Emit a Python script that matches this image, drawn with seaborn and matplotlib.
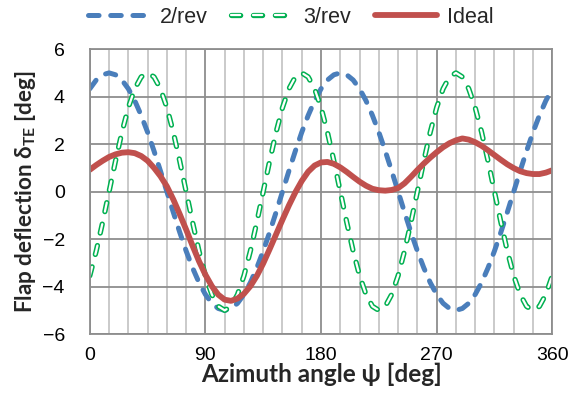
import matplotlib
matplotlib.use("Agg")
import matplotlib.pyplot as plt
import matplotlib.patheffects as pe
from matplotlib.lines import Line2D
import pandas as pd
import seaborn as sns

# Azimuth positions (deg) and flap deflection schedules (deg)
psi = list(range(0, 361, 5))

rev2 = [4.33, 4.70, 4.92, 5.00, 4.92, 4.70, 4.33, 3.83, 3.21, 2.50, 1.71, 0.87,
        0.00, -0.87, -1.71, -2.50, -3.21, -3.83, -4.33, -4.70, -4.92, -5.00, -4.92, -4.70,
        -4.33, -3.83, -3.21, -2.50, -1.71, -0.87, 0.00, 0.87, 1.71, 2.50, 3.21, 3.83,
        4.33, 4.70, 4.92, 5.00, 4.92, 4.70, 4.33, 3.83, 3.21, 2.50, 1.71, 0.87,
        0.00, -0.87, -1.71, -2.50, -3.21, -3.83, -4.33, -4.70, -4.92, -5.00, -4.92, -4.70,
        -4.33, -3.83, -3.21, -2.50, -1.71, -0.87, 0.00, 0.87, 1.71, 2.50, 3.21, 3.83,
        4.33]

rev3 = [-3.54, -2.50, -1.29, 0.00, 1.29, 2.50, 3.54, 4.33, 4.83, 5.00, 4.83, 4.33,
        3.54, 2.50, 1.29, 0.00, -1.29, -2.50, -3.54, -4.33, -4.83, -5.00, -4.83, -4.33,
        -3.54, -2.50, -1.29, 0.00, 1.29, 2.50, 3.54, 4.33, 4.83, 5.00, 4.83, 4.33,
        3.54, 2.50, 1.29, 0.00, -1.29, -2.50, -3.54, -4.33, -4.83, -5.00, -4.83, -4.33,
        -3.54, -2.50, -1.29, 0.00, 1.29, 2.50, 3.54, 4.33, 4.83, 5.00, 4.83, 4.33,
        3.54, 2.50, 1.29, 0.00, -1.29, -2.50, -3.54, -4.33, -4.83, -5.00, -4.83, -4.33,
        -3.54]

ideal = [0.92, 1.12, 1.30, 1.46, 1.57, 1.64, 1.66, 1.62, 1.50, 1.30, 1.00, 0.65,
         0.22, -0.33, -0.95, -1.60, -2.28, -2.93, -3.50, -3.98, -4.34, -4.55, -4.60, -4.50,
         -4.30, -3.98, -3.55, -3.02, -2.42, -1.80, -1.18, -0.58, -0.03, 0.45, 0.84, 1.10,
         1.23, 1.25, 1.17, 1.02, 0.83, 0.62, 0.42, 0.25, 0.12, 0.06, 0.04, 0.07,
         0.15, 0.35, 0.62, 0.91, 1.18, 1.43, 1.66, 1.87, 2.04, 2.16, 2.24, 2.19,
         2.08, 1.93, 1.74, 1.54, 1.34, 1.15, 0.99, 0.86, 0.78, 0.74, 0.74, 0.80,
         0.90]

series_names = ["2/rev", "3/rev", "Ideal"]
x_ticks = [0, 90, 180, 270, 360]
x_minor = list(range(0, 361, 15))
y_ticks = [-6, -4, -2, 0, 2, 4, 6]

sns.set_theme(style="white")
plt.rcParams["font.family"] = ["Liberation Sans", "DejaVu Sans"]
plt.rcParams["lines.scale_dashes"] = False
plt.rcParams["axes.unicode_minus"] = True

BLUE = "#4A7EBB"
GREEN = "#00B050"
RED = "#C0504D"

df = pd.DataFrame({"psi": psi, series_names[0]: rev2,
                   series_names[1]: rev3, series_names[2]: ideal})

fig = plt.figure(figsize=(5.72, 4.13), dpi=100)
ax = fig.add_axes([0.157, 0.191, 0.8085, 0.690])

blue_style = dict(color=BLUE, lw=3.6, ls=(0, (7.6, 8.4)),
                  dash_capstyle="round", solid_capstyle="round")
green_fx = [pe.Stroke(linewidth=3.8, foreground=GREEN, capstyle="round"), pe.Normal()]
green_style = dict(color="white", lw=1.6, ls=(0, (6.6, 9.2)),
                   dash_capstyle="round", path_effects=green_fx)
red_style = dict(color=RED, lw=4.2, solid_capstyle="round")

sns.lineplot(data=df, x="psi", y=series_names[0], ax=ax, legend=False, **blue_style)
sns.lineplot(data=df, x="psi", y=series_names[1], ax=ax, legend=False, **green_style)
sns.lineplot(data=df, x="psi", y=series_names[2], ax=ax, legend=False, **red_style)

ax.set_xlim(0, 360)
ax.set_ylim(-6, 6)
ax.set_xticks(x_ticks)
ax.set_xticks(x_minor, minor=True)
ax.set_yticks(y_ticks)
ax.grid(which="minor", axis="x", color="#C6C6C6", lw=1.3, zorder=0)
ax.grid(which="major", axis="both", color="#8E8E8E", lw=1.3, zorder=0)
ax.set_axisbelow(True)
for s in ax.spines.values():
    s.set_color("#8E8E8E")
    s.set_linewidth(1.3)

ax.tick_params(axis="both", which="both", length=0, labelsize=14, colors="black")
ax.tick_params(axis="y", pad=18)
ax.tick_params(axis="x", pad=9)

label_font = ["Lato", "DejaVu Sans"]
ax.set_xlabel("Azimuth angle ψ [deg]", fontsize=17.5, fontweight="bold",
              family=label_font, labelpad=-1)
ax.set_ylabel(r"Flap deflection δ$_\mathregular{TE}$ [deg]", fontsize=16.2,
              fontweight="bold", family=label_font, labelpad=3)

handles = [
    Line2D([], [], **blue_style),
    Line2D([], [], **green_style),
    Line2D([], [], **red_style),
]
fig.legend(handles, series_names, loc="center", bbox_to_anchor=(0.508, 0.958),
           ncol=3, frameon=False, fontsize=15.5, handlelength=2.9,
           handletextpad=0.45, columnspacing=1.1)

fig.savefig("out.png", dpi=100)
